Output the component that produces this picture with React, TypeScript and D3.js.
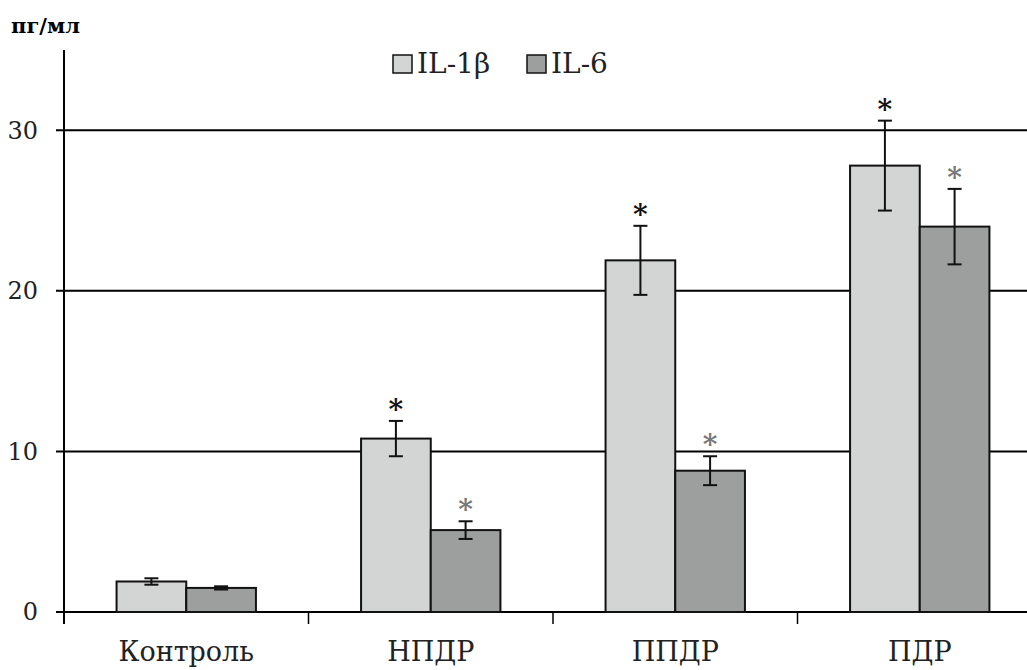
import React from "react";
import { scaleBand, scaleLinear } from "d3";

const groups = ["Контроль", "НПДР", "ППДР", "ПДР"];
const seriesNames = ["IL-1β", "IL-6"];
const il1b = [1.9, 10.8, 21.9, 27.8];
const il1bErr = [0.2, 1.1, 2.15, 2.8];
const il6 = [1.5, 5.1, 8.8, 24.0];
const il6Err = [0.1, 0.55, 0.9, 2.35];
const il1bStar = [false, true, true, true];
const il6Star = [false, true, true, true];
const yTicks = [0, 10, 20, 30];

const fills = ["#d3d5d4", "#9c9f9e"];
const starColors = ["#111", "#777"];
const serif = "DejaVu Serif, serif";

export default function App() {
  const width = 1027;
  const height = 670;
  const margin = { top: 50, right: -15, bottom: 58, left: 64 };
  const innerWidth = width - margin.left - margin.right;
  const innerHeight = height - margin.top - margin.bottom;

  const xScale = scaleBand().domain(groups).range([0, innerWidth]);
  const inner = scaleBand()
    .domain(seriesNames)
    .range([0, xScale.bandwidth() * 0.57]);
  const yScale = scaleLinear().domain([0, 35]).range([innerHeight, 0]);

  const series = [
    { name: seriesNames[0], values: il1b, err: il1bErr, star: il1bStar },
    { name: seriesNames[1], values: il6, err: il6Err, star: il6Star },
  ];
  const groupOffset = (xScale.bandwidth() - inner.range()[1]) / 2;

  return (
    <svg
      width={width}
      height={height}
      style={{ position: "absolute", left: 0, top: 0, background: "#fff", fontFamily: serif }}
    >
      <text x={11} y={33} fontSize={21} fontWeight="bold" textLength={69} style={{ fontFamily: serif }}>
        пг/мл
      </text>
      <g transform={`translate(${margin.left},${margin.top})`}>
        {yTicks.map((t) => (
          <g key={t}>
            <line
              x1={-8}
              x2={innerWidth}
              y1={yScale(t)}
              y2={yScale(t)}
              stroke="#000"
              strokeWidth={2}
            />
            <text
              x={-26}
              y={yScale(t)}
              dy="0.35em"
              textAnchor="end"
              fontSize={24}
              fill="#222"
              style={{ fontFamily: serif }}
            >
              {t}
            </text>
          </g>
        ))}
        <line x1={0} x2={0} y1={0} y2={innerHeight + 12} stroke="#000" strokeWidth={2} />
        {groups.slice(1).map((g) => (
          <line
            key={g}
            x1={xScale(g)}
            x2={xScale(g)}
            y1={innerHeight}
            y2={innerHeight + 12}
            stroke="#000"
            strokeWidth={1.5}
          />
        ))}
        {series.map((s, si) =>
          groups.map((g, gi) => {
            const x = (xScale(g) as number) + groupOffset + (inner(s.name) as number);
            const w = inner.bandwidth();
            const cx = x + w / 2;
            const v = s.values[gi];
            const e = s.err[gi];
            return (
              <g key={s.name + g}>
                <rect
                  x={x}
                  y={yScale(v)}
                  width={w}
                  height={innerHeight - yScale(v)}
                  fill={fills[si]}
                  stroke="#111"
                  strokeWidth={2}
                />
                <line x1={cx} x2={cx} y1={yScale(v + e)} y2={yScale(v - e)} stroke="#111" strokeWidth={2} />
                <line x1={cx - 7} x2={cx + 7} y1={yScale(v + e)} y2={yScale(v + e)} stroke="#111" strokeWidth={2} />
                <line x1={cx - 7} x2={cx + 7} y1={yScale(v - e)} y2={yScale(v - e)} stroke="#111" strokeWidth={2} />
                {s.star[gi] && (
                  <text
                    x={cx}
                    y={yScale(v + e) - 2}
                    textAnchor="middle"
                    fontSize={28}
                    fontWeight="bold"
                    fill={starColors[si]}
                    style={{ fontFamily: serif }}
                  >
                    *
                  </text>
                )}
              </g>
            );
          })
        )}
        {groups.map((g) => (
          <text
            key={g}
            x={(xScale(g) as number) + xScale.bandwidth() / 2}
            y={innerHeight + 49}
            textAnchor="middle"
            fontSize={27}
            fill="#222"
            style={{ fontFamily: serif }}
          >
            {g}
          </text>
        ))}
      </g>
      {seriesNames.map((n, i) => (
        <g key={n} transform={`translate(${393 + i * 134},55)`}>
          <rect x={0} y={0} width={19} height={18} fill={fills[i]} stroke="#111" strokeWidth={1.5} />
          <text x={24} y={18} fontSize={28} fill="#222" style={{ fontFamily: serif }}>
            {n}
          </text>
        </g>
      ))}
    </svg>
  );
}
